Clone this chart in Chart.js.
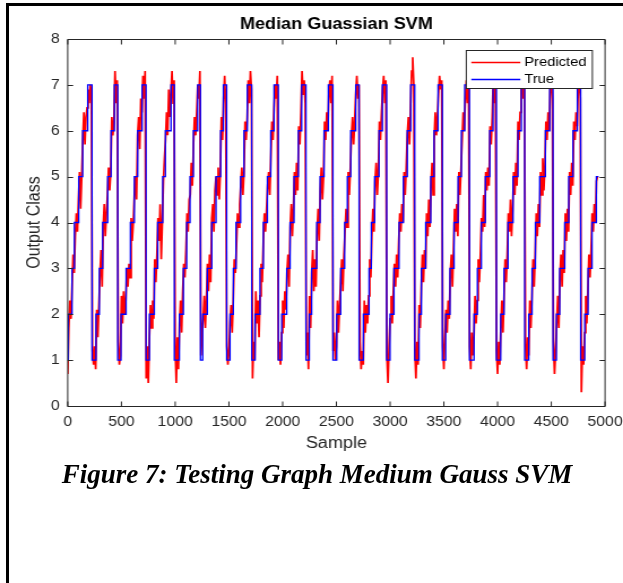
<!DOCTYPE html>
<html><head><meta charset="utf-8">
<script src="https://cdn.jsdelivr.net/npm/chart.js@4.4.1/dist/chart.umd.min.js"></script>
<style>
html,body{margin:0;padding:0;background:#fff;width:623px;height:583px;overflow:hidden;}
#wrap{position:absolute;left:0;top:0;width:551px;height:460px;transform:scaleX(1.1307);transform-origin:0 0;}
#c{display:block;}
.frameTop{position:absolute;left:6px;top:3px;width:617px;height:3px;background:#000;}
.frameLeft{position:absolute;left:6px;top:3px;width:3px;height:580px;background:#000;}
#caption{position:absolute;left:0;top:461px;width:634px;text-align:center;font-family:'Liberation Serif','Times New Roman',serif;font-weight:bold;font-style:italic;font-size:27px;line-height:27px;color:#000;white-space:nowrap;}
</style></head>
<body>
<div id="wrap"><canvas id="c" width="551" height="460"></canvas></div>
<div class="frameTop"></div><div class="frameLeft"></div>
<div id="caption">Figure 7: Testing Graph Medium Gauss SVM</div>
<script>
// ---- data ----
const chartTitle = 'Median Guassian SVM';
const xTitle = 'Sample';
const yTitle = 'Output Class';
const seriesNames = ['Predicted', 'True'];
const xTickLabels = ['0','500','1000','1500','2000','2500','3000','3500','4000','4500','5000'];
const yTickLabels = ['0','1','2','3','4','5','6','7','8'];

// True class: sample where each step starts, and its level
const trueStart = [
  0,5,40,62,102,139,186,
  226,263,294,325,372,403,434,
  465,496,543,583,620,651,692,
  729,760,806,837,884,909,961,
  992,1039,1076,1107,1138,1169,1209,
  1235,1256,1299,1340,1380,1423,1448,
  1479,1510,1541,1566,1609,1640,1671,
  1712,1743,1789,1820,1858,1889,1920,
  1960,1991,2038,2069,2106,2146,2177,
  2217,2248,2270,2317,2348,2385,2425,
  2468,2503,2540,2577,2602,2633,2680,
  2711,2751,2804,2825,2856,2897,2928,
  2968,2999,3036,3083,3123,3160,3191,
  3229,3269,3291,3331,3378,3409,3446,
  3486,3517,3557,3595,3632,3663,3694,
  3738,3781,3812,3849,3886,3927,3958,
  3989,4029,4060,4097,4144,4190,4221,
  4252,4290,4321,4352,4392,4445,4485,
  4516,4547,4578,4625,4662,4702,4742,
  4773,4811,4842,4879,4919,4940
];
const trueLevel = [
  1,2,3,4,5,6,7,
  1,2,3,4,5,6,7,
  1,2,3,4,5,6,7,
  1,2,3,4,5,6,7,
  1,2,3,4,5,6,7,
  1,2,3,4,5,6,7,
  1,2,3,4,5,6,7,
  1,2,3,4,5,6,7,
  1,2,3,4,5,6,7,
  1,2,3,4,5,6,7,
  1,2,3,4,5,6,7,
  1,2,3,4,5,6,7,
  1,2,3,4,5,6,7,
  1,2,3,4,5,6,7,
  1,2,3,4,5,6,7,
  1,2,3,4,5,6,7,
  1,2,3,4,5,6,7,
  1,2,3,4,5,6,7,
  1,2,3,4,5,6,7,
  1,2,3,4,5,5
];

// Predicted class, one reading every 10 samples (0 ... 4930)
const predSampleStep = 10;
const predicted = [
  0.7,1.7,2.3,1.9,2.6,3.3,2.9,3.7,4.2,3.8,4.5,5.1,4.3,5.0,5.8,6.4,5.7,6.3,6.5,6.9,6.6,7.0,6.8,
  1.2,0.9,1.3,0.8,2.1,1.5,2.2,2.9,3.4,2.6,3.9,4.4,3.7,4.2,4.6,5.2,4.7,5.1,6.3,5.9,6.2,7.3,6.6,7.1,
  1.4,0.9,1.1,2.4,1.8,2.5,2.0,2.3,3.0,2.6,3.1,2.8,4.1,3.6,4.0,4.6,5.0,4.5,5.9,6.3,5.6,6.7,6.4,7.2,6.7,7.3,
  0.6,1.3,0.5,1.5,2.2,1.7,2.3,1.9,3.2,2.7,3.3,4.1,3.6,4.4,3.2,4.0,4.9,5.4,5.8,6.4,5.9,6.9,6.3,6.8,7.3,6.6,7.1,
  1.3,0.5,1.5,0.8,1.8,2.3,1.6,2.5,3.1,2.8,3.4,4.2,3.8,4.5,4.6,5.3,4.8,5.7,6.3,5.9,6.4,7.0,6.7,7.3,
  1.1,1.6,1.9,2.4,1.7,2.3,3.1,2.5,3.3,2.7,4.1,4.4,3.8,4.7,5.0,4.6,5.2,4.5,5.1,6.3,5.8,6.7,7.2,6.6,
  1.3,0.9,1.2,1.8,2.2,1.6,2.3,3.2,2.9,3.5,4.2,3.9,4.4,4.8,5.2,4.6,5.1,6.2,5.8,6.3,7.1,6.6,7.3,6.9,
  0.6,1.4,1.0,2.5,1.8,2.3,1.5,2.4,3.1,2.7,3.6,4.2,3.8,4.3,4.8,5.1,4.6,5.4,6.2,5.8,6.5,7.0,6.7,7.2,
  1.0,1.4,0.9,1.6,2.3,1.7,2.5,2.1,2.9,3.3,2.6,3.9,4.4,3.7,4.3,5.1,4.6,5.3,4.7,6.1,5.7,6.4,7.3,6.8,7.1,6.6,
  1.1,1.6,0.8,2.4,1.7,2.9,3.4,2.5,3.2,2.6,3.8,4.3,3.6,4.7,5.2,4.5,5.0,6.2,5.8,6.4,6.0,6.8,7.1,6.6,7.2,
  1.2,1.6,1.0,1.3,2.3,1.6,2.2,2.7,3.2,2.5,3.3,3.8,4.3,3.9,5.1,4.6,5.2,5.9,6.3,5.7,6.2,6.8,7.2,6.7,7.0,
  1.4,0.8,1.2,0.9,2.3,1.6,2.2,1.8,2.4,3.2,2.8,3.7,4.3,3.8,4.9,5.3,4.6,5.1,6.2,5.8,6.4,6.9,7.2,6.6,7.1,
  1.1,0.5,1.3,1.9,2.4,1.8,2.5,3.1,2.6,3.3,2.8,3.6,4.2,3.8,4.4,4.0,5.1,4.6,5.2,5.9,6.3,5.7,6.5,7.3,7.6,7.0,
  1.2,0.6,1.4,0.9,2.2,1.7,2.6,3.3,2.7,3.4,3.0,4.2,3.7,4.5,3.9,4.8,5.3,4.6,5.8,6.4,5.9,6.3,6.8,7.2,6.9,7.1,
  1.3,0.8,1.5,2.1,1.6,2.3,1.9,2.9,3.3,2.6,3.4,4.3,3.8,4.4,3.7,5.1,4.6,5.2,5.8,6.4,6.0,6.7,7.1,6.6,7.3,
  1.3,0.8,1.6,1.1,1.5,2.4,1.8,2.3,3.2,2.7,3.3,4.1,3.8,4.6,3.9,5.1,4.7,5.2,4.8,6.1,5.7,6.3,7.2,6.6,7.0,
  1.2,0.7,1.4,0.9,1.7,2.3,1.6,2.4,3.2,2.7,3.3,4.2,3.8,4.5,3.7,4.3,5.1,4.6,5.3,4.8,6.2,5.8,6.4,6.9,7.2,6.7,7.1,
  1.3,0.8,1.5,1.1,2.3,1.7,2.4,3.2,2.6,3.3,4.2,3.7,4.4,3.9,5.1,4.6,5.4,4.7,5.2,6.2,5.8,6.4,6.0,6.9,7.2,6.7,
  1.4,0.7,1.2,1.8,2.4,1.7,2.8,3.3,2.6,3.4,2.9,4.2,3.6,4.3,3.8,5.1,4.6,5.3,4.8,6.2,5.8,6.4,6.1,6.9,7.2,6.7,
  0.3,1.3,0.9,1.6,2.4,1.8,2.5,3.3,2.8,3.4,4.2,3.8,4.4,4.0,4.9,5.0
];

// ---- chart ----
const FONT = "'Liberation Sans', Arial, Helvetica, sans-serif";
const AXIS_COLOR = '#262626';

const trueData = trueStart.map((s, i) => ({x: s, y: trueLevel[i]}));
const predData = predicted.map((v, i) => ({x: i * predSampleStep, y: v}));

const matlabAxes = {
  id: 'matlabAxes',
  afterDatasetsDraw(chart) {
    const {ctx, chartArea: a, scales: {x, y}} = chart;
    ctx.save();
    ctx.strokeStyle = AXIS_COLOR;
    ctx.lineWidth = 1;
    const L = a.left, R = a.right, T = Math.round(a.top) + 0.5, B = Math.round(a.bottom) + 0.5;
    ctx.beginPath();
    ctx.rect(L, T, R - L, B - T);
    x.ticks.forEach(t => {
      const px = x.getPixelForValue(t.value);
      ctx.moveTo(px, B); ctx.lineTo(px, B - 5);
      ctx.moveTo(px, T); ctx.lineTo(px, T + 5);
    });
    y.ticks.forEach(t => {
      const py = Math.round(y.getPixelForValue(t.value)) + 0.5;
      ctx.moveTo(L, py); ctx.lineTo(L + 4.8, py);
      ctx.moveTo(R, py); ctx.lineTo(R - 4.8, py);
    });
    ctx.stroke();

    // legend box (top-right, inside axes)
    const bx = 412.4, by = 50.5, bw = 111.5, bh = 38;
    ctx.fillStyle = '#fff';
    ctx.fillRect(bx, by, bw, bh);
    ctx.strokeStyle = AXIS_COLOR;
    ctx.strokeRect(bx, by, bw, bh);
    const rows = [61.7, 79];
    chart.data.datasets.forEach((ds, i) => {
      const ry = Math.round(rows[i]) + 0.5;
      ctx.strokeStyle = ds.borderColor;
      ctx.lineWidth = 1.3;
      ctx.beginPath();
      ctx.moveTo(416.8, ry); ctx.lineTo(460.2, ry);
      ctx.stroke();
      ctx.fillStyle = '#000';
      ctx.font = '13px ' + FONT;
      ctx.textBaseline = 'middle';
      ctx.textAlign = 'left';
      ctx.fillText(ds.label, 463.7, rows[i] + 0.5);
    });
    ctx.restore();
  }
};

new Chart(document.getElementById('c'), {
  type: 'line',
  data: {
    datasets: [
      {label: seriesNames[0], data: predData, borderColor: '#ff0000', backgroundColor: '#ff0000',
       borderWidth: 1.7, pointRadius: 0, tension: 0, order: 1},
      {label: seriesNames[1], data: trueData, borderColor: '#0000ff', backgroundColor: '#0000ff',
       borderWidth: 1.3, pointRadius: 0, stepped: 'before', order: 0}
    ]
  },
  options: {
    responsive: false,
    animation: false,
    devicePixelRatio: 1,
    layout: {padding: {left: 0, right: 15.9, top: 0, bottom: 0}},
    plugins: {
      legend: {display: false},
      tooltip: {enabled: false},
      title: {display: true, text: chartTitle, fullSize: false, color: '#000',
              font: {family: FONT, size: 16, weight: 'bold'}, padding: {top: 15.3, bottom: 4.5}}
    },
    scales: {
      x: {
        type: 'linear', min: 0, max: 5000,
        afterFit: s => { s.height = 54; s.paddingLeft = 0; s.paddingRight = 0; },
        ticks: {stepSize: 500, autoSkip: false, maxRotation: 0, padding: 8, color: AXIS_COLOR,
                font: {family: FONT, size: 14},
                callback: (v, i) => xTickLabels[i] !== undefined ? xTickLabels[i] : String(v)},
        grid: {display: false, drawTicks: false},
        border: {display: false},
        title: {display: true, text: xTitle, color: AXIS_COLOR, font: {family: FONT, size: 16},
                padding: {top: 0, bottom: 7}}
      },
      y: {
        type: 'linear', min: 0, max: 8,
        afterFit: s => { s.width = 59.9; s.paddingTop = 0; s.paddingBottom = 0; },
        ticks: {stepSize: 1, padding: 7, color: AXIS_COLOR, font: {family: FONT, size: 14},
                callback: (v, i) => yTickLabels[i] !== undefined ? yTickLabels[i] : String(v)},
        grid: {display: false, drawTicks: false},
        border: {display: false},
        title: {display: true, text: yTitle, color: AXIS_COLOR, font: {family: FONT, size: 16},
                padding: {top: 20.5, bottom: 0}}
      }
    }
  },
  plugins: [matlabAxes]
});
</script>
</body></html>
